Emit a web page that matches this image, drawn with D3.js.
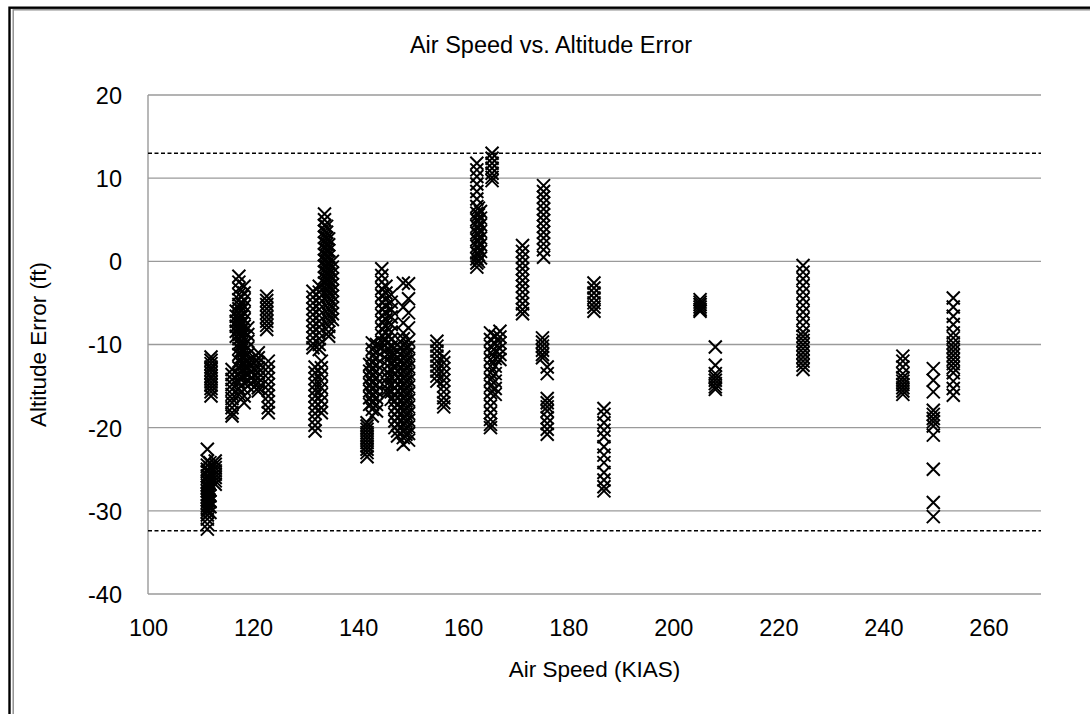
<!DOCTYPE html>
<html>
<head>
<meta charset="utf-8">
<script src="https://cdn.jsdelivr.net/npm/d3@7"></script>
<style>
  html, body { margin: 0; padding: 0; background: #fff; }
  svg { display: block; }
  text { font-family: "Liberation Sans", Arial, sans-serif; fill: #000; }
</style>
</head>
<body>
<svg id="chart" width="1090" height="714"></svg>
<script>
// ---------- data ----------
const chartTitle = "Air Speed vs. Altitude Error";
const xAxisTitle = "Air Speed (KIAS)";
const yAxisTitle = "Altitude Error (ft)";
const xTicks = [100, 120, 140, 160, 180, 200, 220, 240, 260];
const yTicks = [-40, -30, -20, -10, 0, 10, 20];
const xDomain = [100, 270];
const yDomain = [-40, 20];
const limitLines = [13.0, -32.4];

// each cluster: one air speed and the altitude errors recorded at it
const clusterSpeeds = [
  111.3, 111.8, 112.8, 112.0, 116.0, 117.3, 116.8, 118.3, 119.0, 121.0,
  122.6, 122.9, 131.4, 131.8, 132.6, 133.6, 134.4, 135.1, 133.0, 141.7,
  142.7, 143.5, 144.5, 145.3, 145.6, 146.3, 147.5, 148.6, 149.6, 155.0,
  156.3, 162.6, 163.3, 165.5, 165.2, 166.1, 167.0, 171.3, 175.3, 175.1,
  176.0, 184.9, 186.8, 205.1, 208.0, 224.7, 243.7, 249.5, 253.3,
  111.6, 117.8, 147.0, 149.1, 134.0, 162.9, 120.2, 142.2
];
const clusterErrors = [
  [-22.6, -24.0, -24.5, -25.0, -25.3, -25.8, -26.1, -26.5, -26.9, -27.2, -27.6, -28.0, -28.3, -28.7, -29.0, -29.4, -29.8, -30.1, -30.5, -31.0, -31.6, -32.2],
  [-24.2, -24.8, -25.5, -26.2, -26.8, -27.5, -28.2, -28.9, -29.5, -30.2],
  [-24.0, -24.4, -24.8, -25.2, -25.6, -26.0, -26.4, -26.8],
  [-11.5, -11.9, -12.3, -12.7, -13.0, -13.4, -13.8, -14.1, -14.5, -14.9, -15.3, -15.7, -16.2],
  [-13.0, -13.6, -14.2, -14.8, -15.4, -16.0, -16.5, -17.0, -17.6, -18.2, -18.6],
  [-1.8, -2.5, -3.3, -4.0, -4.6, -5.2, -5.7, -6.2, -6.7, -7.1, -7.5, -7.9, -8.3, -8.8, -9.3, -9.9, -10.5, -11.2, -12.0, -12.8, -13.6, -14.5, -15.3, -16.0],
  [-6.0, -6.6, -7.2, -7.8, -8.4, -9.0],
  [-3.0, -3.8, -4.6, -5.4, -6.2, -7.0, -7.8, -8.5, -9.2, -10.0, -10.8, -11.5, -12.3, -13.0, -13.8, -14.6, -15.4, -16.2, -17.0],
  [-8.0, -8.8, -9.6, -10.4, -11.2, -12.0, -12.8, -13.6, -14.4, -15.0],
  [-11.0, -11.6, -12.2, -12.8, -13.4, -14.0, -14.6, -15.2, -15.6],
  [-4.2, -4.7, -5.2, -5.7, -6.2, -6.7, -7.2, -7.7, -8.2],
  [-12.0, -12.7, -13.4, -14.1, -14.8, -15.5, -16.2, -16.9, -17.6, -18.2],
  [-3.6, -4.3, -5.0, -5.7, -6.4, -7.1, -7.8, -8.5, -9.2, -9.9, -10.4],
  [-12.7, -13.4, -14.1, -14.8, -15.5, -16.2, -16.9, -17.6, -18.3, -19.0, -19.7, -20.4],
  [-3.0, -3.7, -4.4, -5.1, -5.8, -6.5, -7.2, -7.9, -8.6, -9.3, -10.0, -10.6],
  [5.7, 5.0, 4.3, 3.6, 2.9, 2.2, 1.5, 0.8, 0.1, -0.6, -1.3, -2.0, -2.6],
  [2.7, 2.0, 1.3, 0.6, -0.1, -0.8, -1.5, -2.2, -2.9, -3.6, -4.3, -5.0, -5.7, -6.4, -7.1, -7.8, -8.5, -9.0],
  [0.0, -0.7, -1.4, -2.1, -2.8, -3.5, -4.2, -4.9, -5.6, -6.3, -7.0],
  [-12.0, -12.8, -13.6, -14.4, -15.2, -16.0, -16.8, -17.6, -18.2],
  [-19.4, -19.8, -20.2, -20.6, -21.0, -21.4, -21.8, -22.2, -22.6, -23.0, -23.5],
  [-9.8, -10.6, -11.4, -12.2, -13.0, -13.8, -14.6, -15.4, -16.2, -17.0, -17.8, -18.6],
  [-10.0, -10.8, -11.6, -12.4, -13.2, -14.0, -14.8, -15.6, -16.4, -17.2, -18.0],
  [-0.9, -1.7, -2.5, -3.3, -4.1, -4.9, -5.7, -6.5, -7.3, -8.1, -8.9, -9.7, -10.4],
  [-3.0, -3.8, -4.6, -5.4, -6.2, -7.0, -7.8, -8.6, -9.4],
  [-9.8, -10.5, -11.2, -11.9, -12.6, -13.3, -14.0, -14.7, -15.4, -15.8],
  [-4.0, -4.9, -5.8, -6.7, -7.6, -8.5, -9.4, -10.3, -11.2, -12.1, -13.0, -13.9, -14.8, -15.7, -16.6],
  [-10.0, -10.8, -11.6, -12.4, -13.2, -14.0, -14.8, -15.6, -16.4, -17.2, -18.0, -18.8, -19.6, -20.4, -21.0],
  [-2.6, -5.5, -7.4, -8.6, -9.3, -10.0, -10.8, -11.6, -12.4, -13.2, -14.0, -14.8, -15.6, -16.4, -17.2, -18.0, -18.8, -19.6, -20.4, -21.2, -22.0],
  [-2.7, -4.5, -6.2, -8.0, -9.5, -10.3, -11.1, -11.9, -12.7, -13.5, -14.3, -15.1, -15.9, -16.7, -17.5, -18.3, -19.1, -19.9, -20.7, -21.5],
  [-9.6, -10.2, -10.8, -11.4, -12.0, -12.6, -13.2, -13.8, -14.4],
  [-11.5, -12.2, -12.9, -13.6, -14.3, -15.0, -15.7, -16.4, -17.0, -17.5],
  [11.8, 11.0, 10.2, 9.3, 8.4, 7.5, 6.6, 5.8, 5.0, 4.2, 3.4, 2.6, 1.8, 1.0, 0.3, -0.2, -0.7],
  [6.0, 5.2, 4.4, 3.6, 2.8, 2.0, 1.2, 0.4],
  [13.0, 12.4, 11.8, 11.2, 10.6, 10.1, 9.7],
  [-8.6, -9.4, -10.2, -11.0, -11.8, -12.6, -13.4, -14.2, -15.0, -15.8, -16.6, -17.4, -18.2, -19.0, -19.6, -20.0],
  [-9.0, -9.9, -10.8, -11.7, -12.6, -13.5, -14.4, -15.3, -16.0],
  [-8.4, -9.1, -9.8, -10.5, -11.2, -11.8],
  [1.9, 1.2, 0.5, -0.2, -0.9, -1.6, -2.3, -3.0, -3.7, -4.4, -5.1, -5.8, -6.3],
  [9.1, 8.4, 7.7, 7.0, 6.3, 5.6, 4.9, 4.2, 3.5, 2.8, 2.1, 1.4, 0.5],
  [-9.2, -9.7, -10.2, -10.7, -11.2, -11.6],
  [-12.7, -13.5, -16.5, -17.0, -17.5, -18.0, -18.8, -19.5, -20.2, -20.8],
  [-2.6, -3.2, -3.8, -4.4, -5.0, -5.5, -6.0],
  [-17.7, -18.4, -19.4, -20.3, -21.1, -22.3, -23.3, -24.2, -25.4, -26.3, -27.1, -27.6],
  [-4.6, -4.9, -5.2, -5.5, -5.8, -6.0],
  [-10.3, -12.5, -13.5, -13.9, -14.3, -14.7, -15.1, -15.4],
  [-0.5, -1.3, -2.1, -2.9, -3.7, -4.5, -5.3, -6.1, -6.9, -7.7, -8.5, -9.0, -9.5, -10.0, -10.5, -11.0, -11.5, -12.0, -12.5, -13.0],
  [-11.4, -12.0, -12.7, -13.5, -14.0, -14.4, -14.8, -15.2, -15.6, -16.0],
  [-12.9, -14.3, -15.7, -17.9, -18.4, -18.9, -19.3, -19.8, -20.9, -25.0, -29.0, -30.7],
  [-4.4, -5.5, -6.6, -7.6, -8.6, -9.2, -9.8, -10.3, -10.8, -11.3, -11.8, -12.3, -12.8, -13.4, -14.4, -15.3, -16.1],
  [-25.2, -25.9, -26.6, -27.3, -28.0, -28.7, -29.4],
  [-4.3, -5.1, -5.9, -6.7, -7.5, -8.3, -9.1, -9.9, -10.7, -11.5, -12.3, -13.1, -13.9],
  [-11.2, -12.0, -12.8, -13.6, -14.4, -15.2, -16.0, -16.8, -17.6, -18.4, -19.2, -20.0],
  [-10.4, -11.2, -12.0, -12.8, -13.6, -14.4, -15.2, -16.0, -16.8, -17.6, -18.4, -19.2, -20.0, -20.8],
  [4.2, 3.5, 2.8, 2.1, 1.4, 0.7, 0.0, -0.7, -1.4, -2.1, -2.8, -3.5, -4.2],
  [6.4, 5.6, 4.8, 4.0, 3.2, 2.4, 1.6, 0.8, 0.0],
  [-11.6, -12.3, -13.0, -13.7, -14.4, -15.1],
  [-12.4, -13.2, -14.0, -14.8, -15.6, -16.4, -17.2]
];

// ---------- layout ----------
const W = 1090, H = 714;
const margin = { left: 148, top: 95, right: 1041, bottom: 594 };

const svg = d3.select("#chart");

// outer frame (double border)
svg.append("rect").attr("x", 9.5).attr("y", 7.7).attr("width", W + 20).attr("height", H + 20)
  .attr("fill", "none").attr("stroke", "#000").attr("stroke-width", 2.4);
svg.append("rect").attr("x", 13.2).attr("y", 9.8).attr("width", W + 20).attr("height", H + 20)
  .attr("fill", "none").attr("stroke", "#8c8c8c").attr("stroke-width", 1.4);

const x = d3.scaleLinear().domain(xDomain).range([margin.left, margin.right]);
const y = d3.scaleLinear().domain(yDomain).range([margin.bottom, margin.top]);

// gridlines
svg.append("g").selectAll("line").data(yTicks).join("line")
  .attr("x1", margin.left).attr("x2", margin.right)
  .attr("y1", d => y(d)).attr("y2", d => y(d))
  .attr("stroke", "#9a9a9a").attr("stroke-width", 1.4);

// left axis line
svg.append("line")
  .attr("x1", margin.left).attr("x2", margin.left)
  .attr("y1", margin.top).attr("y2", margin.bottom)
  .attr("stroke", "#9a9a9a").attr("stroke-width", 1.4);

const fmt = d => String(d);

// y tick labels
const yAxis = d3.axisLeft(y).tickValues(yTicks).tickSize(0).tickPadding(0).tickFormat(fmt);
const gy = svg.append("g").attr("transform", `translate(${margin.left - 26},0)`).call(yAxis);
gy.select(".domain").remove();
gy.selectAll("text").attr("font-size", 23.5).attr("font-family", "Liberation Sans, Arial, sans-serif").attr("dy", "0.36em");

// x tick labels
const xAxis = d3.axisBottom(x).tickValues(xTicks).tickSize(0).tickPadding(0).tickFormat(fmt);
const gx = svg.append("g").attr("transform", `translate(0,${margin.bottom + 25})`).call(xAxis);
gx.select(".domain").remove();
gx.selectAll("text").attr("font-size", 23.5).attr("font-family", "Liberation Sans, Arial, sans-serif").attr("dy", "0.71em");

// dashed limit lines
svg.append("g").selectAll("line").data(limitLines).join("line")
  .attr("x1", margin.left).attr("x2", margin.right)
  .attr("y1", d => y(d)).attr("y2", d => y(d))
  .attr("stroke", "#000").attr("stroke-width", 1.5)
  .attr("stroke-dasharray", "4,2.5");

// points
const points = [];
clusterSpeeds.forEach((s, i) => clusterErrors[i].forEach(e => points.push([s, e])));
const r = 6.5;
svg.append("g").selectAll("path").data(points).join("path")
  .attr("d", d => {
    const cx = x(d[0]), cy = y(d[1]);
    return `M${cx - r},${cy - r}L${cx + r},${cy + r}M${cx - r},${cy + r}L${cx + r},${cy - r}`;
  })
  .attr("stroke", "#000").attr("stroke-width", 2).attr("fill", "none");

// titles
svg.append("text").attr("x", 551).attr("y", 53).attr("text-anchor", "middle")
  .attr("font-size", 23.5).text(chartTitle);
svg.append("text").attr("x", (margin.left + margin.right) / 2).attr("y", 677).attr("text-anchor", "middle")
  .attr("font-size", 22.5).text(xAxisTitle);
svg.append("text").attr("transform", `translate(38,${(margin.top + margin.bottom) / 2}) rotate(-90)`)
  .attr("text-anchor", "middle").attr("dy", "0.35em")
  .attr("font-size", 22.5).text(yAxisTitle);
</script>
</body>
</html>
